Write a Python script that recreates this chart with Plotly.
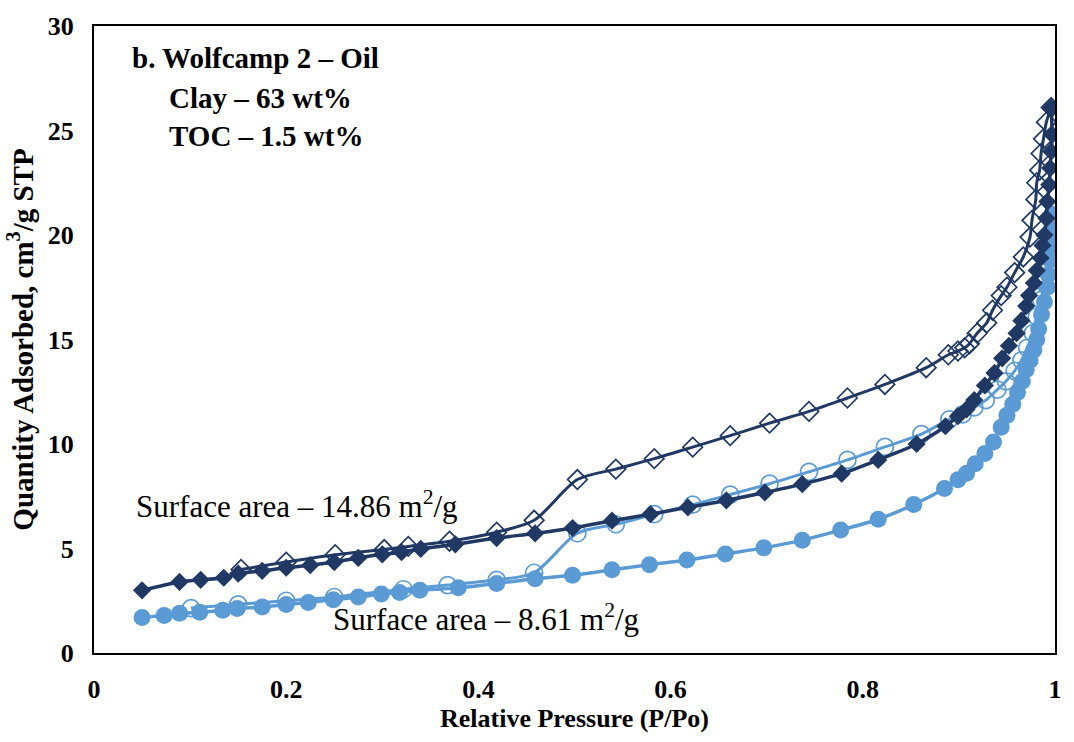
import plotly.graph_objects as go

# Sample A (14.86 m2/g) - adsorption (filled diamonds)
x_ads_a = [0.050, 0.089, 0.111, 0.135, 0.150, 0.175, 0.200, 0.225, 0.250, 0.275, 0.300, 0.320, 0.340,
           0.376, 0.419, 0.459, 0.498, 0.539, 0.579, 0.618, 0.658, 0.698, 0.737, 0.778, 0.816, 0.856,
           0.886, 0.899, 0.908, 0.916, 0.927, 0.937, 0.945, 0.952, 0.960, 0.965, 0.970, 0.973, 0.978,
           0.981, 0.985, 0.987, 0.989, 0.991, 0.992, 0.994, 0.995, 0.996, 0.997, 0.996]
y_ads_a = [3.0, 3.4, 3.5, 3.6, 3.8, 3.93, 4.08, 4.2, 4.35, 4.55, 4.72, 4.82, 4.98,
           5.2, 5.5, 5.72, 5.98, 6.33, 6.64, 6.97, 7.3, 7.68, 8.08, 8.58, 9.24, 10.0,
           10.85, 11.33, 11.66, 12.1, 12.8, 13.4, 14.1, 14.7, 15.3, 15.9, 16.6, 17.1, 17.7,
           18.3, 18.9, 19.5, 20.0, 20.8, 21.6, 22.4, 23.2, 24.0, 24.8, 26.1]

# Sample A - desorption (open diamonds)
x_des_a = [0.996, 0.991, 0.988, 0.9855, 0.984, 0.981, 0.980, 0.976, 0.974, 0.967, 0.958, 0.950, 0.944,
           0.935, 0.929, 0.919, 0.911, 0.906, 0.899, 0.889, 0.866, 0.823, 0.784, 0.744, 0.703, 0.662,
           0.623, 0.583, 0.543, 0.503, 0.458, 0.419, 0.370, 0.327, 0.302, 0.251, 0.200, 0.153]
y_des_a = [26.1, 25.4, 24.6, 23.9, 23.1, 22.5, 21.7, 20.7, 19.9, 18.95, 18.2, 17.5, 17.1,
           16.4, 15.8, 15.3, 14.8, 14.6, 14.45, 14.27, 13.65, 12.85, 12.2, 11.56, 11.0, 10.4,
           9.85, 9.3, 8.8, 8.3, 6.35, 5.78, 5.35, 5.1, 4.95, 4.7, 4.35, 4.0]

# Sample B (8.61 m2/g) - adsorption (filled circles)
x_ads_b = [0.050, 0.073, 0.089, 0.110, 0.134, 0.149, 0.175, 0.200, 0.223, 0.249, 0.275, 0.299, 0.318,
           0.339, 0.379, 0.419, 0.459, 0.498, 0.539, 0.578, 0.617, 0.657, 0.697, 0.737, 0.777, 0.816,
           0.853, 0.885, 0.899, 0.908, 0.917, 0.927, 0.936, 0.944, 0.950, 0.956, 0.961, 0.966, 0.970,
           0.974, 0.978, 0.981, 0.983, 0.986, 0.989, 0.992, 0.993, 0.995, 0.996, 0.997, 0.998, 0.997]
y_ads_b = [1.7, 1.8, 1.9, 1.95, 2.05, 2.13, 2.2, 2.32, 2.42, 2.55, 2.68, 2.82, 2.9,
           3.0, 3.12, 3.33, 3.55, 3.72, 3.98, 4.22, 4.45, 4.74, 5.03, 5.4, 5.88, 6.4,
           7.1, 7.87, 8.29, 8.6, 9.05, 9.55, 10.1, 10.8, 11.37, 11.9, 12.46, 13.0, 13.55,
           14.0, 14.5, 15.0, 15.5, 16.2, 16.8, 17.5, 18.1, 18.8, 19.3, 19.9, 20.4, 21.0]

# Sample B - desorption (open circles)
x_des_b = [0.997, 0.996, 0.994, 0.992, 0.989, 0.9855, 0.981, 0.977, 0.971, 0.965, 0.958, 0.949, 0.940,
           0.928, 0.916, 0.904, 0.890, 0.861, 0.823, 0.784, 0.744, 0.703, 0.662, 0.623, 0.583, 0.543,
           0.503, 0.458, 0.419, 0.368, 0.322, 0.250, 0.200, 0.150, 0.101]
y_des_b = [20.9, 20.0, 19.3, 18.5, 17.7, 16.9, 16.1, 15.3, 14.6, 14.0, 13.5, 13.0, 12.6,
           12.1, 11.75, 11.42, 11.18, 10.47, 9.86, 9.24, 8.67, 8.1, 7.58, 7.1, 6.64, 6.16,
           5.73, 3.84, 3.5, 3.25, 3.05, 2.68, 2.5, 2.33, 2.15]

DARK = "#1F3864"
LIGHT = "#5B9BD5"
FONT = "Times New Roman, Liberation Serif, serif"

fig = go.Figure()
fig.add_trace(go.Scatter(x=x_des_b, y=y_des_b, mode="lines+markers",
                         line=dict(color=LIGHT, width=3, shape="spline", smoothing=0.8),
                         marker=dict(symbol="circle-open", size=17, color=LIGHT, line=dict(width=1.7, color=LIGHT)),
                         showlegend=False))
fig.add_trace(go.Scatter(x=x_ads_b, y=y_ads_b, mode="lines+markers",
                         line=dict(color=LIGHT, width=3.5, shape="spline", smoothing=0.8),
                         marker=dict(symbol="circle", size=17, color=LIGHT),
                         showlegend=False))
fig.add_trace(go.Scatter(x=x_des_a, y=y_des_a, mode="lines+markers",
                         line=dict(color=DARK, width=3, shape="spline", smoothing=0.8),
                         marker=dict(symbol="diamond-open", size=15, color=DARK, line=dict(width=1.7, color=DARK)),
                         showlegend=False))
fig.add_trace(go.Scatter(x=x_ads_a, y=y_ads_a, mode="lines+markers",
                         line=dict(color=DARK, width=3.5, shape="spline", smoothing=0.8),
                         marker=dict(symbol="diamond", size=14, color=DARK),
                         showlegend=False))

def px_x(px):
    return (px - 94) / 967

def px_y(py):
    return (653 - py) / 633

annots = [
    ("<b>b. Wolfcamp 2 – Oil</b>", 130, 52, 29),
    ("<b>Clay – 63 wt%</b>", 167, 93, 29),
    ("<b>TOC – 1.5 wt%</b>", 167, 131, 29),
    ("Surface area – 14.86 m<sup>2</sup>/g", 134, 503, 31),
    ("Surface area – 8.61 m<sup>2</sup>/g", 332, 617, 31),
]
for text, px, py, size in annots:
    fig.add_annotation(text=text, x=px_x(px), y=px_y(py), xref="paper", yref="paper",
                       xanchor="left", yanchor="middle", showarrow=False,
                       font=dict(family=FONT, size=size, color="black"))

fig.update_layout(
    width=1074, height=742,
    margin=dict(l=94, r=13, t=20, b=89),
    paper_bgcolor="white", plot_bgcolor="white",
    font=dict(family=FONT, color="black"),
)
fig.update_xaxes(range=[0, 1], dtick=0.2, tick0=0, showgrid=False, zeroline=False,
                 showline=True, mirror=True, linecolor="black", linewidth=2,
                 ticks="", ticklabelstandoff=12,
                 tickfont=dict(family=FONT, size=26, color="black", weight="bold"),
                 title=dict(text="<b>Relative Pressure (P/Po)</b>", standoff=6,
                            font=dict(family=FONT, size=26, color="black")))
fig.update_yaxes(range=[0, 30], dtick=5, tick0=0, showgrid=False, zeroline=False,
                 showline=True, mirror=True, linecolor="black", linewidth=2,
                 ticks="", ticklabelstandoff=13,
                 tickfont=dict(family=FONT, size=26, color="black", weight="bold"),
                 title=dict(text="<b>Quantity Adsorbed, cm<sup>3</sup>/g STP</b>", standoff=6,
                            font=dict(family=FONT, size=29, color="black")))

fig.write_html("out.html")
